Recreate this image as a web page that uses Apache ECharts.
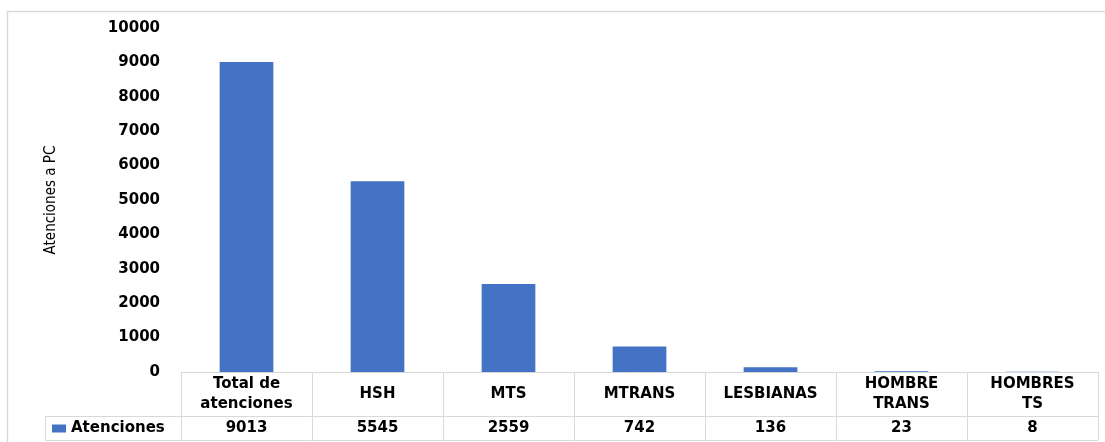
<!DOCTYPE html>
<html>
<head>
<meta charset="utf-8">
<script src="https://cdn.jsdelivr.net/npm/echarts@6/dist/echarts.min.js"></script>
<style>
html,body{margin:0;padding:0;background:#fff;}
#chart{width:1105px;height:442px;}
</style>
</head>
<body>
<div id="chart"></div>
<script>
const categories = ['Total de\natenciones', 'HSH', 'MTS', 'MTRANS', 'LESBIANAS', 'HOMBRE\nTRANS', 'HOMBRES\nTS'];
const seriesName = 'Atenciones';
const values = [9013, 5545, 2559, 742, 136, 23, 8];
const yTicks = [0, 1000, 2000, 3000, 4000, 5000, 6000, 7000, 8000, 9000, 10000];

const FONT = '"DejaVu Sans", sans-serif';
const GRID = { left: 181, right: 7, top: 28, bottom: 70 };
const W = 1105, H = 442;
const axisY = H - GRID.bottom;          // 372
const tableMid = axisY + 44;            // 416
const tableBot = axisY + 68;            // 440
const tableLeft = 45;
const lineColor = '#d9d9d9';

const chart = echarts.init(document.getElementById('chart'), null, { renderer: 'canvas' });
chart.setOption({
  animation: false,
  backgroundColor: '#fff',
  grid: { left: GRID.left, right: GRID.right, top: GRID.top, bottom: GRID.bottom },
  legend: {
    data: [seriesName],
    left: 52, top: 421, padding: 0,
    icon: 'rect', itemWidth: 14, itemHeight: 8, itemGap: 10,
    textStyle: { fontFamily: FONT, fontWeight: 'bold', fontSize: 15, color: '#000' }
  },
  xAxis: [{
    type: 'category',
    data: categories,
    axisLine: { show: true, lineStyle: { color: lineColor, width: 1 } },
    axisTick: { show: true, length: 68, interval: 0, lineStyle: { color: lineColor } },
    axisLabel: {
      interval: 0, margin: 22, verticalAlign: 'middle', align: 'center',
      fontFamily: FONT, fontWeight: 'bold', fontSize: 15, color: '#000', lineHeight: 20
    },
    splitLine: { show: false }
  }, {
    type: 'category',
    data: values.map(String),
    position: 'bottom',
    axisLine: { show: false },
    axisTick: { show: false },
    axisLabel: {
      interval: 0, margin: 56, verticalAlign: 'middle', align: 'center',
      fontFamily: FONT, fontWeight: 'bold', fontSize: 15, color: '#000'
    },
    splitLine: { show: false }
  }],
  yAxis: {
    type: 'value',
    min: yTicks[0], max: yTicks[yTicks.length - 1], interval: yTicks[1] - yTicks[0],
    name: 'Atenciones a PC',
    nameLocation: 'middle', nameRotate: 90, nameGap: 122,
    nameTextStyle: { fontFamily: '"Liberation Sans Narrow", "DejaVu Sans Condensed", sans-serif', fontSize: 15, color: '#000' },
    axisLine: { show: false }, axisTick: { show: false }, splitLine: { show: false },
    axisLabel: { margin: 21, fontFamily: FONT, fontWeight: 'bold', fontSize: 15, color: '#000',
      formatter: function (v) { return String(v); } }
  },
  series: [{
    name: seriesName,
    type: 'bar',
    xAxisIndex: 0,
    data: values,
    barWidth: '41%',
    itemStyle: { color: '#4472C4' }
  }],
  graphic: [
    { type: 'rect', silent: true, shape: { x: 7.5, y: 11.5, width: W + 20, height: H + 20 },
      style: { fill: null, stroke: lineColor, lineWidth: 1.5 } },
    { type: 'line', silent: true, shape: { x1: tableLeft, y1: tableMid + 0.5, x2: W - GRID.right, y2: tableMid + 0.5 },
      style: { stroke: lineColor, lineWidth: 1 } },
    { type: 'line', silent: true, shape: { x1: tableLeft, y1: tableBot + 0.5, x2: W - GRID.right, y2: tableBot + 0.5 },
      style: { stroke: lineColor, lineWidth: 1 } },
    { type: 'line', silent: true, shape: { x1: tableLeft + 0.5, y1: tableMid, x2: tableLeft + 0.5, y2: tableBot },
      style: { stroke: lineColor, lineWidth: 1 } }
  ]
});
</script>
</body>
</html>
